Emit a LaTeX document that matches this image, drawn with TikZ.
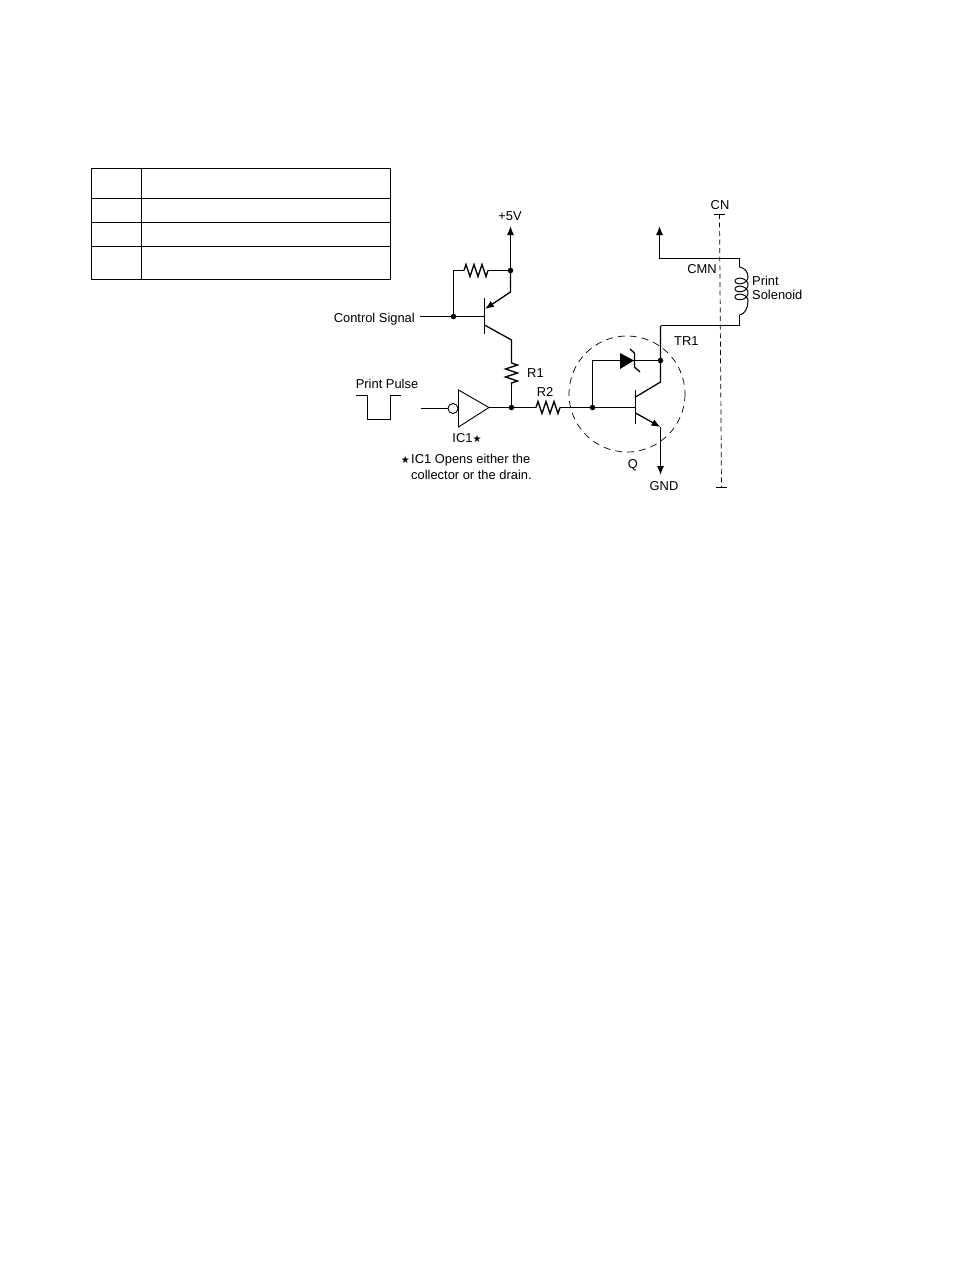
\documentclass[tikz,border=0pt]{standalone}
\usepackage{fontspec}
\setmainfont{Liberation Sans}
\newfontfamily\symfont{DejaVu Sans}
\newcommand{\icstar}{{\symfont\fontsize{10}{10}\selectfont ★}}
\usetikzlibrary{arrows.meta,decorations.pathmorphing,positioning,calc}
\tikzset{
	wire/.style={line width=1.3pt},
	tip/.style={-{Latex[length=9pt,width=7pt]}},
	dotnode/.style={circle,fill=black,inner sep=0pt,minimum size=5.5pt},
	lbl/.style={inner sep=0pt,font=\fontsize{12.9}{14}\selectfont},
	resistor/.style={wire,decorate,decoration={zigzag,segment length=8pt,amplitude=6pt}},
	tbl/.style={line width=1.3pt}
}
\begin{document}
\begin{tikzpicture}[x=1pt,y=-1pt]
	\useasboundingbox (0,0) rectangle (954,1274);
	\draw[tbl] (91.5,168.5) rectangle (390.5,279.5);
	\draw[tbl] (141.5,168.5)--(141.5,279.5);
	\draw[tbl] (91.5,198.5)--(390.5,198.5);
	\draw[tbl] (91.5,222.5)--(390.5,222.5);
	\draw[tbl] (91.5,246.5)--(390.5,246.5);

	\coordinate (vcc) at (510.5,226);
	\node[dotnode] (dotvcc) at (510.5,270.5) {};
	\node[dotnode] (dotbase) at (453.5,316.5) {};
	\node[dotnode] (dotout) at (511.5,407.5) {};
	\node[dotnode] (dotgate) at (592.5,407.5) {};
	\node[dotnode] (dotcoll) at (660.5,360.5) {};
	\coordinate (ctrl) at (420,316.5);
	\coordinate (qaBase) at (484.5,316.5);
	\coordinate (qaEmit) at (485,309);
	\coordinate (qaColl) at (484.5,325);
	\coordinate (qaTop) at (510.5,292);
	\coordinate (qaBot) at (511.5,340);
	\coordinate (rfbC) at (453.5,270.5);
	\coordinate (rfbL) at (464,270.5);
	\coordinate (rfbR) at (488,270.5);
	\coordinate (raT) at (511.5,363);
	\coordinate (raB) at (511.5,385);
	\coordinate (rbL) at (536,407.5);
	\coordinate (rbR) at (560,407.5);
	\coordinate (icIn) at (421,408.5);
	\coordinate (icBub) at (448,408.5);
	\coordinate (icOut) at (489,407.5);
	\coordinate (icA) at (458.5,390);
	\coordinate (icB) at (458.5,427);
	\coordinate (dzC) at (592.5,360.5);
	\coordinate (dzA) at (620,353);
	\coordinate (dzB) at (620,369);
	\coordinate (dzK) at (634,360.5);
	\coordinate (qbBase) at (635.5,407.5);
	\coordinate (qbColl) at (635.5,397);
	\coordinate (qbEmit) at (635.5,413);
	\coordinate (qbTop) at (660.5,382);
	\coordinate (qbBot) at (660.5,427);
	\coordinate (gnd) at (660.5,475);
	\coordinate (cmnUp) at (659.5,226);
	\coordinate (cmnL) at (659.5,258.5);
	\coordinate (cmnR) at (739.5,258.5);
	\coordinate (coilT) at (739.5,267);
	\coordinate (coilB) at (739.5,315);
	\coordinate (trR) at (739.5,325.5);
	\coordinate (trL) at (660.5,325.5);
	\coordinate (cnT) at (719.5,214);
	\coordinate (cnB) at (721.5,487);

	\draw[wire,tip] (dotvcc.center)--(vcc);
	\draw[wire,tip] (dotvcc.center)--(qaTop)--(qaEmit);
	\draw[wire] (484.5,298)--(484.5,334);
	\draw[wire] (ctrl)--(qaBase);
	\draw[wire] (dotbase.center)--(rfbC)--(rfbL);
	\draw[resistor] (rfbL)--(rfbR);
	\draw[wire] (rfbR)--(dotvcc.center);
	\draw[wire] (qaColl)--(qaBot)--(raT);
	\draw[resistor] (raT)--(raB);
	\draw[wire] (raB)--(dotout.center);

	\draw[wire] (356,395.5)--(367.5,395.5)--(367.5,419.5)--(390.5,419.5)--(390.5,395.5)--(401,395.5);
	\draw[wire] (icIn)--(icBub);
	\draw[line width=0.9pt] (453,408.5) circle (5);
	\draw[line width=0.9pt] (icA)--(icB)--(icOut)--cycle;
	\draw[wire] (icOut)--(dotout.center)--(rbL);
	\draw[resistor] (rbL)--(rbR);
	\draw[wire] (rbR)--(dotgate.center)--(qbBase);

	\draw[line width=0.7pt,dash pattern=on 7pt off 5pt] (627,394) circle (58);
	\draw[wire] (dotgate.center)--(dzC)--(dzK);
	\fill (dzA)--(dzK)--(dzB)--cycle;
	\draw[wire] (630,349)--(634.5,353)--(634.5,367)--(640,372);
	\draw[wire] (dzK)--(dotcoll.center);
	\draw[wire] (trL)--(qbTop)--(qbColl);
	\draw[wire] (635.5,390)--(635.5,424);
	\draw[wire,tip] (qbEmit)--(qbBot);
	\draw[wire,tip] (qbBot)--(gnd);

	\draw[wire,tip] (cmnL)--(cmnUp);
	\draw[wire] (cmnL)--(cmnR)--(coilT);
	\draw[line width=1pt] (coilT) .. controls (745,268) and (748,272) .. (748,277)
		-- plot[domain=0:18.85,samples=140,smooth] ({741.5+6.5*cos(\x r)},{277+1.27*\x+4.6*sin(\x r)})
		.. controls (748,308) and (745,314) .. (coilB);
	\draw[wire] (coilB)--(trR)--(trL);

	\draw[line width=0.7pt,dash pattern=on 5pt off 3.5pt] (cnT)--(cnB);
	\draw[wire] (714,214.5)--(725,214.5);
	\draw[wire] (716,487.5)--(727,487.5);

	\node[lbl] (lblvcc) at (510,216) {+5V};
	\node[lbl] (lblcn) at (720,205) {CN};
	\node[lbl] (lblcmn) at (702,269) {CMN};
	\node[lbl,anchor=west] (lblprint) at (752,281) {Print};
	\node[lbl,anchor=west] (lblsol) at (752,294.5) {Solenoid};
	\node[lbl,anchor=west] (lbltr) at (674,341) {TR1};
	\node[lbl] (lblq) at (633,465) {Q};
	\node[lbl] (lblgnd) at (664,486) {GND};
	\node[lbl,anchor=west] (lblra) at (527,373) {R1};
	\node[lbl] (lblrb) at (545,392) {R2};
	\node[lbl] (lblpulse) at (387,384) {Print Pulse};
	\node[lbl] (lblic) at (467,438) {IC1\icstar};
	\node[lbl,anchor=east] (lblctrl) at (415,319.5) {Control Signal};
	\node[lbl,anchor=west] (lblnote) at (411,460) {IC1 Opens either the};
	\node[lbl,anchor=west] (lblnoteb) at (411,475) {collector or the drain.};
	\node[lbl,left=1pt of lblnote] (lblstar) {\icstar};
\end{tikzpicture}
\end{document}
